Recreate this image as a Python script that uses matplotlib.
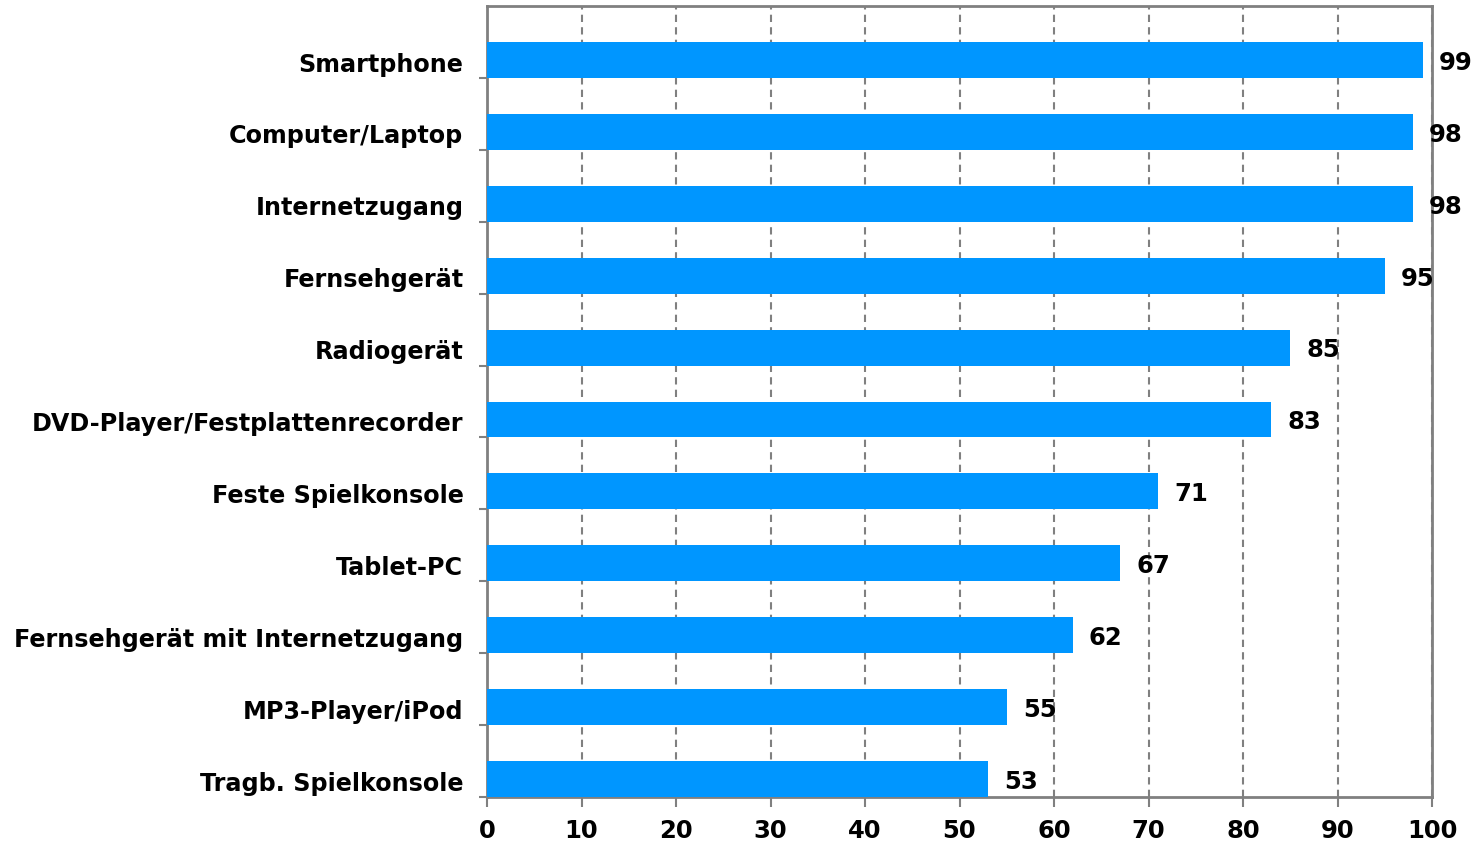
import matplotlib.pyplot as plt
import numpy as np

# Devices, top to bottom as in the chart
categories = [
    "Smartphone",
    "Computer/Laptop",
    "Internetzugang",
    "Fernsehgerät",
    "Radiogerät",
    "DVD-Player/Festplattenrecorder",
    "Feste Spielkonsole",
    "Tablet-PC",
    "Fernsehgerät mit Internetzugang",
    "MP3-Player/iPod",
    "Tragb. Spielkonsole",
]
values = [99, 98, 98, 95, 85, 83, 71, 67, 62, 55, 53]
x_ticks = [0, 10, 20, 30, 40, 50, 60, 70, 80, 90, 100]

bar_color = "#0096FF"
axis_color = "#808080"

plt.rcParams["font.family"] = "DejaVu Sans"
plt.rcParams["font.weight"] = "bold"

fig = plt.figure(figsize=(14.75, 8.42), dpi=100)
ax = fig.add_axes([487 / 1475, 1 - 797 / 842, (1432 - 487) / 1475, (797 - 6) / 842])

n = len(categories)
# bottom category gets slot 0; bar sits in the lower half of its slot
slots = np.arange(n)[::-1]
centers = slots + 0.25
ax.barh(centers, values, height=0.5, color=bar_color, zorder=3)

for c, v in zip(centers, values):
    ax.text(v + 1.7, c - 0.04, str(v), va="center", ha="left",
            fontsize=17.5, fontweight="bold", zorder=4)

ax.set_xlim(0, 100)
ax.set_ylim(0, n)
ax.set_xticks(x_ticks)
ax.set_xticklabels([str(t) for t in x_ticks], fontsize=17.5, fontweight="bold")

ax.set_yticks(centers - 0.03)
ax.set_yticklabels(categories, fontsize=17.2, fontweight="bold")
ax.set_yticks(np.arange(n), minor=True)
ax.tick_params(axis="y", which="major", length=0, pad=17)
ax.tick_params(axis="y", which="minor", length=6, width=1.5, color=axis_color)
ax.tick_params(axis="x", length=7, width=1.5, color=axis_color, pad=9)

ax.grid(axis="x", linestyle=(0, (3.5, 2.5)), color=axis_color, linewidth=1.5, zorder=0)

for s in ax.spines.values():
    s.set_color(axis_color)
    s.set_linewidth(2)

fig.savefig("out.png", dpi=100)
